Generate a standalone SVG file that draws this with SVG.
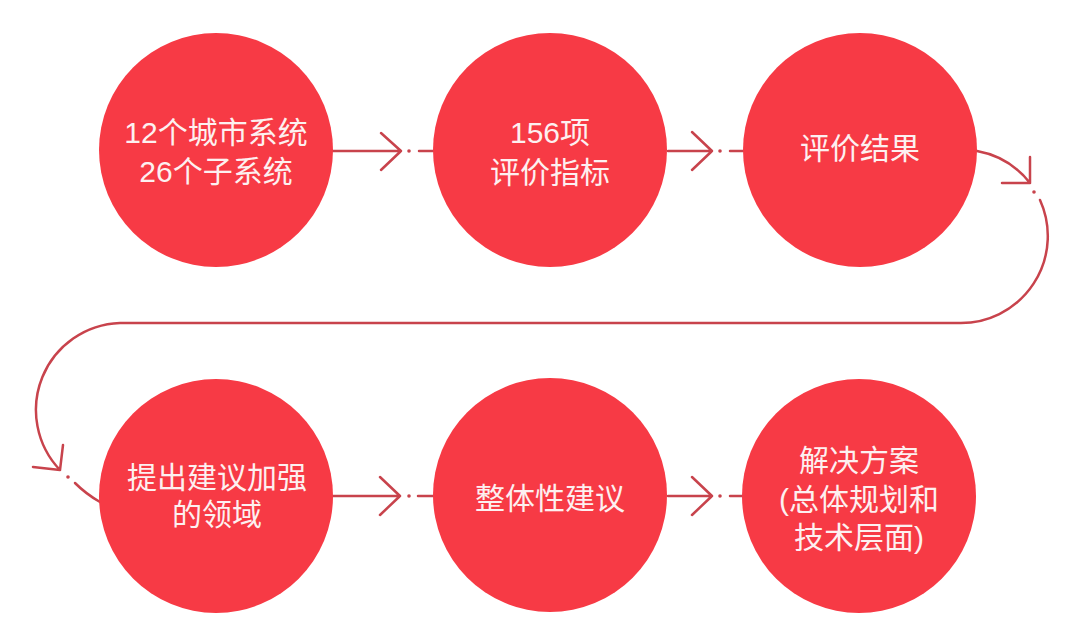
<svg xmlns="http://www.w3.org/2000/svg" width="1080" height="641" viewBox="0 0 1080 641">
<style>
.node{fill:#f73a45}
.lbl{fill:#fdf0f0;font-family:"Liberation Sans","Noto Sans CJK SC",sans-serif;font-size:30px;text-anchor:middle}
.con{fill:none;stroke:#c8434c;stroke-width:2.5;stroke-linecap:round;stroke-linejoin:round}
.dot{fill:#c8434c}
</style>
<rect width="1080" height="641" fill="#ffffff"/>
<g id="connectors">
  <g id="c1">
    <path class="con" d="M333 151 H401 M381 133 L401 151 L381 170 M419 151 H433"/>
    <circle class="dot" cx="409" cy="151" r="1.8"/>
  </g>
  <g id="c2">
    <path class="con" d="M668 151 H712 M692 132 L712 151 L692 170 M730 151 H743"/>
    <circle class="dot" cx="720" cy="151" r="1.8"/>
  </g>
  <g id="c3">
    <path class="con" d="M977 151 A87 87 0 0 1 1030 183 M1002 183 L1030 183 L1030 157"/>
    <circle class="dot" cx="1034" cy="192" r="1.8"/>
    <path class="con" d="M1040 200 A87 87 0 0 1 960 323 H120 A87 87 0 0 0 60 470 M63 445 L60 470 L33 467"/>
    <circle class="dot" cx="68" cy="477" r="1.8"/>
    <path class="con" d="M75 483 Q86 494 100 502"/>
  </g>
  <g id="c4">
    <path class="con" d="M333 496 H400 M380 477 L400 496 L380 515 M418 496 H433"/>
    <circle class="dot" cx="409" cy="496" r="1.8"/>
  </g>
  <g id="c5">
    <path class="con" d="M668 496 H712 M692 477 L712 496 L692 515 M730 496 H742"/>
    <circle class="dot" cx="720" cy="496" r="1.8"/>
  </g>
</g>
<g id="n1">
  <circle class="node" cx="216" cy="150" r="117"/>
  <text class="lbl" x="216" y="143">12个城市系统</text>
  <text class="lbl" x="216" y="182">26个子系统</text>
</g>
<g id="n2">
  <circle class="node" cx="550" cy="150" r="117"/>
  <text class="lbl" x="550" y="143">156项</text>
  <text class="lbl" x="550" y="183">评价指标</text>
</g>
<g id="n3">
  <circle class="node" cx="860" cy="150" r="117"/>
  <text class="lbl" x="860" y="159">评价结果</text>
</g>
<g id="n4">
  <circle class="node" cx="216" cy="496" r="117"/>
  <text class="lbl" x="217" y="488">提出建议加强</text>
  <text class="lbl" x="217" y="525">的领域</text>
</g>
<g id="n5">
  <circle class="node" cx="550" cy="495" r="117"/>
  <text class="lbl" x="550" y="509">整体性建议</text>
</g>
<g id="n6">
  <circle class="node" cx="859" cy="496" r="117"/>
  <text class="lbl" x="859" y="471">解决方案</text>
  <text class="lbl" x="859" y="510">(总体规划和</text>
  <text class="lbl" x="859" y="548">技术层面)</text>
</g>
</svg>
